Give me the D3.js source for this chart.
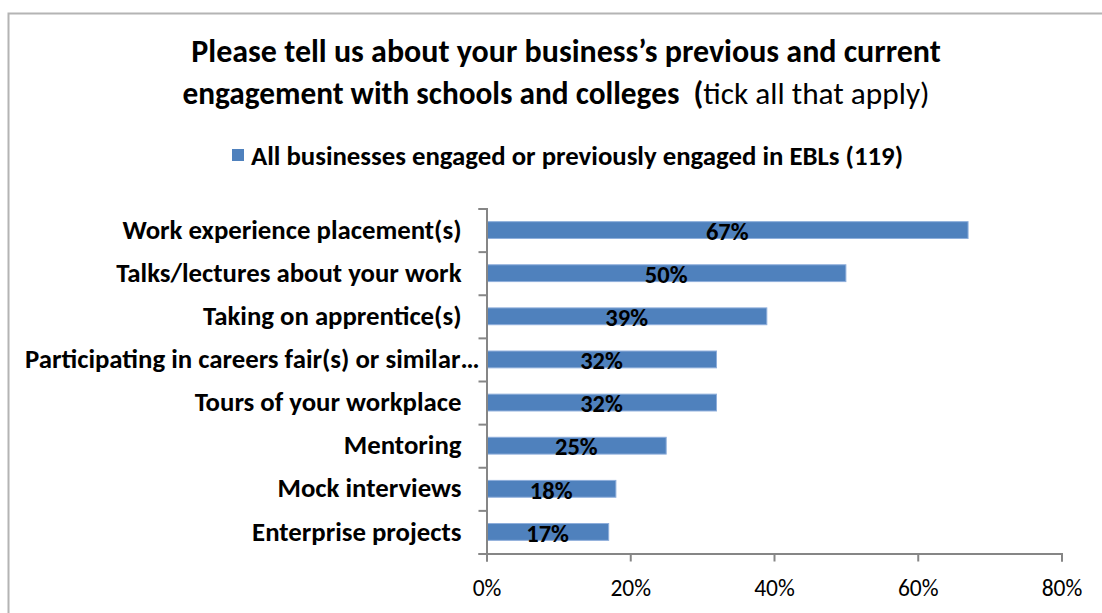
<!DOCTYPE html>
<html>
<head>
<meta charset="utf-8">
<script src="https://cdn.jsdelivr.net/npm/d3@7"></script>
<style>
  html, body { margin: 0; padding: 0; background: #fff; }
  svg { display: block; }
  text { font-family: Carlito, Calibri, Lato, "Open Sans", sans-serif; white-space: pre; }
</style>
</head>
<body>
<svg id="chart" width="1102" height="613"></svg>
<script>
// Engagement activities, top to bottom
const categories = [
  "Work experience placement(s)",
  "Talks/lectures about your work",
  "Taking on apprentice(s)",
  "Participating in careers fair(s) or similar\u2026",
  "Tours of your workplace",
  "Mentoring",
  "Mock interviews",
  "Enterprise projects"
];
// Share of businesses (%) reporting each activity
const values = [67, 50, 39, 32, 32, 25, 18, 17];
const xTicks = [0, 20, 40, 60, 80];
const seriesName = "All businesses engaged or previously engaged in EBLs (119)";

const svg = d3.select("#chart");
const W = 1102, H = 613;

// outer chart frame
svg.append("rect")
  .attr("x", 8.5).attr("y", 13.5)
  .attr("width", W + 20).attr("height", H + 20)
  .attr("fill", "#fff")
  .attr("stroke", "#b4b4b4").attr("stroke-width", 2);

// title
const title = svg.append("text")
  .attr("text-anchor", "middle")
  .attr("font-weight", "bold")
  .attr("font-size", 32)
  .attr("fill", "#000");
title.append("tspan").attr("x", 566).attr("y", 62)
  .text("Please tell us about your business\u2019s previous and current");
const l2 = title.append("tspan").attr("x", 556).attr("y", 104).attr("font-size", 31.3);
l2.append("tspan").text("engagement with schools and colleges  (");
l2.append("tspan").attr("font-weight", "normal").text("tick all that apply)");

// legend
const legend = svg.append("g");
legend.append("rect")
  .attr("x", 232).attr("y", 149).attr("width", 12).attr("height", 12)
  .attr("fill", "#4f81bd");
legend.append("text")
  .attr("x", 251).attr("y", 165)
  .attr("font-weight", "bold").attr("font-size", 26.8)
  .text(seriesName);

// scales
const x = d3.scaleLinear().domain([0, 80]).range([486.5, 1061.5]);
const y = d3.scaleBand().domain(categories)
  .range([208.5, 553.5])
  .paddingInner(0.61).paddingOuter(0.305);
const edges = d3.scaleLinear().domain([0, categories.length]).range([208.5, 553.5]);

// bars
svg.append("g").selectAll("rect")
  .data(values)
  .join("rect")
  .attr("x", x(0))
  .attr("y", (d, i) => y(categories[i]))
  .attr("width", d => x(d) - x(0))
  .attr("height", y.bandwidth())
  .attr("fill", "#4f81bd")
  .attr("stroke", "#8eaedb").attr("stroke-width", 1);

// value labels, centred in each bar
svg.append("g").selectAll("text")
  .data(values)
  .join("text")
  .attr("x", d => (x(0) + x(d)) / 2)
  .attr("y", (d, i) => y(categories[i]) + y.bandwidth() / 2)
  .attr("dy", "0.4em")
  .attr("text-anchor", "middle")
  .attr("font-weight", "bold").attr("font-size", 24.5)
  .attr("fill", "#000")
  .text(d => d + "%");

// vertical axis: boundary ticks
const yAxisG = svg.append("g").attr("transform", `translate(${x(0)},0)`)
  .call(d3.axisLeft(edges).ticks(categories.length).tickSize(8).tickFormat(""));
yAxisG.selectAll("path, line").attr("stroke", "#868686").attr("stroke-width", 2);

// category labels (a truncated label keeps its ellipsis past the usual margin)
const yLab = svg.append("g").attr("transform", `translate(${x(0)},0)`)
  .call(d3.axisLeft(y).tickSize(0).tickPadding(25));
yLab.select(".domain").remove();
yLab.selectAll("text")
  .attr("font-size", 26.8).attr("font-weight", "bold").attr("fill", "#000")
  .attr("dx", d => d.endsWith("\u2026") ? 18 : 0);

// horizontal axis
const xAxisG = svg.append("g").attr("transform", `translate(0,553.5)`)
  .call(d3.axisBottom(x).tickValues(xTicks).tickFormat(d => d + "%").tickSize(8).tickPadding(18));
xAxisG.selectAll("path, line").attr("stroke", "#868686").attr("stroke-width", 2);
xAxisG.selectAll("text")
  .attr("font-size", 23.5).attr("fill", "#000");

svg.selectAll("g").attr("font-family", null);
</script>
</body>
</html>
